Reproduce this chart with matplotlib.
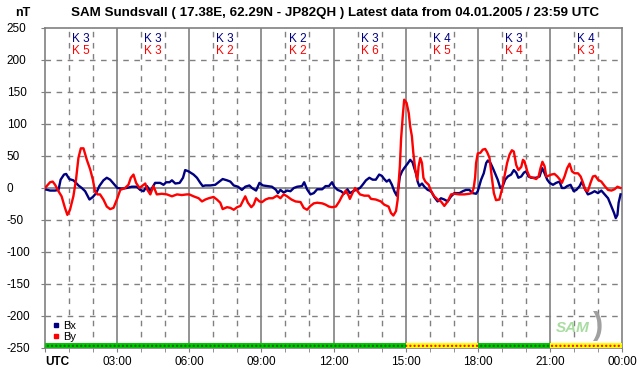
import matplotlib
matplotlib.use('Agg')
import matplotlib.pyplot as plt
from matplotlib.lines import Line2D

plt.rcParams['font.family'] = ['Liberation Sans', 'DejaVu Sans']

# Bx (hours UTC, nT)
bx_t = [0.00, 0.21, 0.42, 0.56, 0.65, 0.79, 0.88, 1.01, 1.18, 1.29, 1.39, 1.53, 1.67, 1.85, 1.99,
        2.13, 2.26, 2.43, 2.57, 2.71, 2.85, 3.01, 3.19, 3.40, 3.61, 3.82, 3.96, 4.10, 4.24, 4.38,
        4.58, 4.79, 4.93, 5.04, 5.18, 5.28, 5.42, 5.60, 5.74, 5.83, 5.97, 6.18, 6.32, 6.46, 6.56,
        6.67, 6.88, 7.08, 7.22, 7.39, 7.57, 7.71, 7.85, 8.03, 8.19, 8.33, 8.50, 8.61, 8.78, 8.92,
        9.06, 9.24, 9.44, 9.61, 9.69, 9.79, 9.93, 10.07, 10.21, 10.35, 10.49, 10.69, 10.78, 10.90,
        11.04, 11.18, 11.32, 11.53, 11.67, 11.81, 11.94, 12.03, 12.17, 12.31, 12.44, 12.58, 12.68,
        12.82, 12.93, 13.10, 13.21, 13.35, 13.49, 13.63, 13.76, 13.90, 14.01, 14.11, 14.21, 14.32,
        14.43, 14.53, 14.63, 14.71, 14.76, 14.85, 14.94, 15.08, 15.19, 15.29, 15.36, 15.43, 15.50,
        15.57, 15.68, 15.78, 15.92, 16.06, 16.19, 16.33, 16.47, 16.61, 16.75, 16.89, 17.03, 17.24,
        17.38, 17.51, 17.65, 17.79, 17.93, 18.00, 18.14, 18.25, 18.35, 18.42, 18.53, 18.63, 18.72,
        18.83, 18.94, 19.04, 19.14, 19.25, 19.39, 19.50, 19.60, 19.69, 19.81, 19.92, 20.01, 20.11,
        20.22, 20.43, 20.57, 20.68, 20.78, 20.89, 20.99, 21.13, 21.26, 21.40, 21.50, 21.61, 21.72,
        21.86, 21.99, 22.10, 22.24, 22.33, 22.44, 22.58, 22.72, 22.86, 23.00, 23.14, 23.28, 23.42,
        23.56, 23.67, 23.74, 23.81, 23.86, 23.94]
bx = [-2, -4, -4, -3, 13, 21, 22, 14, 12, 8, 4, 0, -5, -18, -14,
      -8, 3, 12, 16, 13, 7, 0, -1, 0, 2, 2, -3, -5, 3, -5,
      8, 8, 5, 9, 9, 12, 7, 8, 16, 28, 26, 21, 16, 8, 3,
      4, 4, 5, 9, 14, 12, 10, 4, 2, -3, 2, 4, 0, -4, 8,
      4, 3, 2, -3, -8, -3, -7, -4, -5, 0, 2, 3, 9, -2,
      -10, -8, -2, -2, 3, 3, 9, 2, -3, -5, -9, -2, -8,
      -5, -3, 0, 5, 12, 16, 13, 13, 21, 19, 14, 10, 13,
      5, -5, -12, 3, 18, 26, 31, 38, 44, 40, 31, 23, 10,
      3, 7, 2, -3, -5, -14, -21, -16, -18, -21, -13, -8, -8,
      -5, -3, -3, -8, -9, -5, 13, 23, 39, 43, 39, 31, 23,
      13, 0, 3, 13, 18, 21, 28, 24, 16, 18, 24, 26, 18,
      16, 16, 18, 31, 23, 13, 8, 5, 8, 10, 0, 0, 3,
      5, -5, -3, 3, 10, 0, -10, -8, -5, -8, -4, -10, -16,
      -29, -39, -47, -42, -23, -10]

# By (hours UTC, nT)
by_t = [0.00, 0.21, 0.32, 0.42, 0.56, 0.69, 0.83, 0.93, 1.04, 1.18, 1.29, 1.39, 1.49, 1.60, 1.74,
        1.88, 1.99, 2.08, 2.18, 2.29, 2.43, 2.57, 2.71, 2.85, 3.01, 3.13, 3.33, 3.47, 3.57, 3.68,
        3.79, 3.93, 4.03, 4.17, 4.26, 4.38, 4.51, 4.65, 4.86, 5.07, 5.28, 5.49, 5.69, 5.90, 6.00,
        6.18, 6.39, 6.53, 6.67, 6.81, 7.01, 7.15, 7.29, 7.39, 7.57, 7.71, 7.85, 7.99, 8.13, 8.22,
        8.33, 8.44, 8.58, 8.68, 8.78, 8.92, 9.03, 9.17, 9.31, 9.47, 9.65, 9.79, 9.93, 10.07, 10.25,
        10.42, 10.63, 10.76, 10.90, 11.04, 11.18, 11.32, 11.53, 11.67, 11.81, 11.94, 12.10, 12.24,
        12.35, 12.44, 12.51, 12.63, 12.68, 12.79, 12.90, 13.00, 13.10, 13.28, 13.46, 13.56, 13.76,
        13.97, 14.11, 14.29, 14.39, 14.49, 14.60, 14.67, 14.71, 14.76, 14.81, 14.88, 14.94, 15.04,
        15.13, 15.19, 15.26, 15.32, 15.40, 15.49, 15.54, 15.61, 15.68, 15.74, 15.82, 15.96, 16.06,
        16.19, 16.33, 16.47, 16.61, 16.75, 16.89, 17.03, 17.24, 17.44, 17.65, 17.76, 17.83, 17.89,
        17.93, 18.00, 18.11, 18.21, 18.31, 18.39, 18.49, 18.58, 18.67, 18.76, 18.90, 19.00, 19.11,
        19.22, 19.32, 19.42, 19.50, 19.60, 19.69, 19.81, 19.88, 19.94, 20.06, 20.15, 20.29, 20.43,
        20.53, 20.61, 20.69, 20.78, 20.85, 20.94, 21.06, 21.19, 21.31, 21.42, 21.50, 21.61, 21.72,
        21.82, 21.92, 22.03, 22.17, 22.28, 22.38, 22.47, 22.58, 22.69, 22.79, 22.89, 23.00, 23.14,
        23.28, 23.42, 23.56, 23.69, 23.81, 23.94]
by = [0, 9, 10, 5, -5, -13, -31, -42, -34, -13, 13, 47, 62, 62, 44,
      29, 13, -5, -10, -10, -18, -29, -33, -31, -16, -3, 0, 5, 16, 21,
      8, 0, 3, 7, -3, -10, 3, -10, -9, -10, -13, -10, -11, -10, -10,
      -13, -16, -21, -18, -16, -14, -18, -23, -33, -30, -31, -34, -30, -28, -21,
      -13, -23, -30, -26, -16, -21, -22, -18, -16, -16, -12, -16, -10, -13, -18,
      -21, -22, -31, -34, -28, -24, -23, -24, -26, -29, -30, -29, -21,
      -13, -8, -4, -12, -17, -8, 0, -5, -10, -12, -12, -17, -18,
      -21, -26, -29, -39, -43, -36, -18, 8, 34, 76, 112, 138, 133,
      117, 96, 81, 55, 29, 13, 34, 47, 39, 16, 10, 5, -5,
      -13, -18, -21, -28, -21, -10, -9, -10, -10, -9, -8, 0, 16,
      39, 54, 55, 60, 61, 56, 47, 18, -8, -19, -18, -3, 18,
      39, 52, 59, 57, 36, 28, 33, 44, 42, 26, 18, 16, 14,
      18, 31, 41, 34, 18, 19, 21, 22, 18, 13, 8, 18, 31,
      38, 26, 23, 23, 18, 8, -3, -5, 8, 18, 19, 13, 10,
      3, -3, -4, -2, 2, 0]

# K indices per 3-hour block
k_x = [3, 3, 3, 2, 3, 4, 3, 4]
k_y = [5, 3, 2, 2, 6, 5, 4, 3]

# activity band: start hour, end hour, level
band_start = [0, 15, 18, 21]
band_end = [15, 18, 21, 24]
band_level = ['quiet', 'active', 'quiet', 'active']

hour_labels = ['UTC', '03:00', '06:00', '09:00', '12:00', '15:00', '18:00', '21:00', '00:00']

fig = plt.figure(figsize=(6.42, 3.76), dpi=100)
ax = fig.add_axes([45 / 642, 1 - 348 / 376, 577 / 642, 320 / 376])

ax.set_xlim(0, 24)
ax.set_ylim(-250, 250)

# grid
for h in range(1, 24):
    if h % 3 == 0:
        ax.axvline(h, color='#808080', lw=1.2, zorder=1)
    else:
        ax.axvline(h, color='#808080', lw=1, ls=(0, (4, 4)), zorder=1)
for v in range(-200, 250, 50):
    if v == 0:
        ax.axhline(v, color='#808080', lw=1.2, zorder=1)
    else:
        ax.axhline(v, color='#808080', lw=1, ls=(0, (4, 4)), zorder=1)

ax.plot(bx_t, bx, color='#000080', lw=1.7, zorder=3)
ax.plot(by_t, by, color='#ff0000', lw=1.7, zorder=4)

# band
for s, e, lev in zip(band_start, band_end, band_level):
    if lev == 'quiet':
        fc, hc = '#00c800', '#006000'
    else:
        fc, hc = '#ffff00', '#ff0000'
    ax.fill_between([s, e], -250, -242, facecolor=fc, edgecolor=hc, hatch='....',
                    linewidth=0, zorder=5)

# K labels
for i, (kx, ky) in enumerate(zip(k_x, k_y)):
    ax.text(3 * i + 1.5, 233, f'K {kx}', color='#000080', ha='center', va='center',
            fontsize=8.5, zorder=6)
    ax.text(3 * i + 1.5, 214, f'K {ky}', color='#ff0000', ha='center', va='center',
            fontsize=8.5, zorder=6)

for sp in ax.spines.values():
    sp.set_color('#808080')
    sp.set_linewidth(1.2)

ax.set_yticks(range(-250, 251, 50))
ax.set_yticklabels([str(v) for v in range(-250, 251, 50)], ha='left')
ax.tick_params(axis='y', length=3, color='#808080', pad=24.5, labelsize=8.5)
ax.set_xticks(range(0, 25, 3))
ax.set_xticks(range(0, 25), minor=True)
ax.set_xticklabels(hour_labels)
ax.tick_params(axis='x', which='both', length=3, color='#808080', pad=3, labelsize=8.5)
ax.get_xticklabels()[0].set_fontweight('bold')
ax.get_xticklabels()[0].set_horizontalalignment('left')

fig.text(15 / 642, 1 - 13 / 376, 'nT', fontsize=9, fontweight='bold', ha='left', va='center')
fig.text(335 / 642, 1 - 13 / 376,
         'SAM Sundsvall ( 17.38E, 62.29N - JP82QH ) Latest data from 04.01.2005 / 23:59 UTC',
         fontsize=9.6, fontweight='bold', ha='center', va='center')

# legend
handles = [Line2D([], [], marker='s', ls='none', color='#000080', markersize=3),
           Line2D([], [], marker='s', ls='none', color='#ff0000', markersize=3)]
ax.legend(handles, ['Bx', 'By'], loc='lower left', bbox_to_anchor=(0.0, -0.005), frameon=False,
          fontsize=8, handlelength=0.6, handletextpad=0.3, labelspacing=0.1, borderpad=0.2)

# logo
ax.text(21.95, -218, 'SAM', fontsize=11, fontstyle='italic', fontweight='bold', color='#a8dca0',
        ha='center', va='center', zorder=6)
ax.text(23.0, -216, ')', fontsize=22, fontweight='bold', color='#a0a0a0',
        ha='center', va='center', zorder=6)

fig.savefig('out.png', dpi=100)
